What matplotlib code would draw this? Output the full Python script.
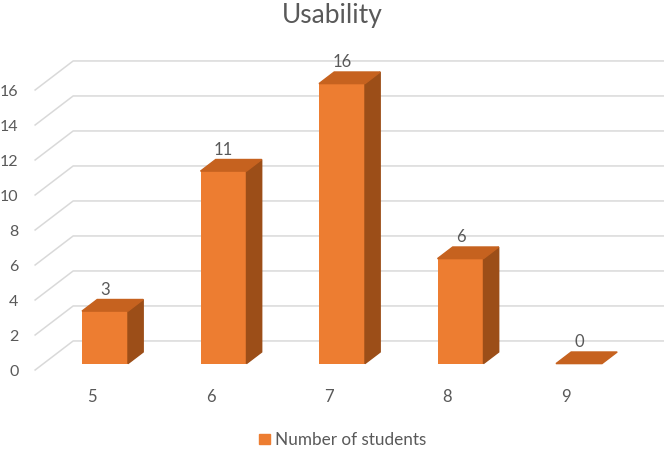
import numpy as np
import matplotlib
matplotlib.use('Agg')
import matplotlib.pyplot as plt
from matplotlib.patches import Polygon, Patch

plt.rcParams['font.family'] = ['Lato', 'DejaVu Sans']

categories = ['5', '6', '7', '8', '9']
students = [3, 11, 16, 6, 0]
y_ticks = [0, 2, 4, 6, 8, 10, 12, 14, 16]

# pseudo-3D geometry (category units in x, value units in y)
DX, DY = 0.321, 1.66        # offset of the back wall
Z_FRONT, Z_BACK = 0.22, 0.62  # depth of bar faces
BAR_W = 0.388
BAR_OFF = 0.039
GRID_START = -0.48

front_c = '#ED7D31'
top_c = '#C6621F'
side_c = '#9C4E18'
grid_c = '#D9D9D9'
text_c = '#595959'

fig = plt.figure(figsize=(6.64, 4.55), dpi=100)
ax = fig.add_axes([0, 0, 1, 1])
ax.set_xlim(-92 / 118.5, (664 - 92) / 118.5)
ax.set_ylim((370 - 455) / 17.5, 370 / 17.5)
ax.axis('off')

x = np.arange(len(categories))

# gridlines: diagonal on the floor side + back wall
for t in y_ticks:
    ax.plot([GRID_START, GRID_START + DX, 10], [t, t + DY, t + DY],
            color=grid_c, lw=1.1, zorder=1)
    ax.text(GRID_START - 0.14, t - 0.1, str(t), ha='right', va='center',
            fontsize=11.5, color=text_c)

for i, v in enumerate(students):
    xl = x[i] + BAR_OFF - BAR_W / 2 + Z_FRONT * DX
    xr = xl + BAR_W
    yb = Z_FRONT * DY
    yt = yb + v
    ddx = (Z_BACK - Z_FRONT) * DX
    ddy = (Z_BACK - Z_FRONT) * DY
    if v > 0:
        ax.bar(xl + BAR_W / 2, v, BAR_W, bottom=yb, color=front_c, zorder=3)
        ax.add_patch(Polygon([(xr, yb), (xr + ddx, yb + ddy), (xr + ddx, yt + ddy), (xr, yt)],
                             closed=True, color=side_c, zorder=3))
    ax.add_patch(Polygon([(xl, yt), (xr, yt), (xr + ddx, yt + ddy), (xl + ddx, yt + ddy)],
                         closed=True, color=top_c, zorder=3))
    ax.text(xl + BAR_W / 2, yt + ddy + 0.55, str(v), ha='center', va='center',
            fontsize=12, color=text_c, zorder=4)

for i, c in enumerate(categories):
    ax.text(x[i], -1.55, c, ha='center', va='center', fontsize=12, color=text_c)

fig.text(0.5, 0.965, 'Usability', ha='center', va='center', fontsize=19, color=text_c)

fig.legend(handles=[Patch(color=front_c, label='Number of students')],
           loc='center', bbox_to_anchor=(0.516, 0.033), frameon=False,
           handlelength=0.6, handleheight=0.6, handletextpad=0.3,
           prop={'size': 12.3}, labelcolor=text_c)

fig.savefig('out.png', dpi=100)
